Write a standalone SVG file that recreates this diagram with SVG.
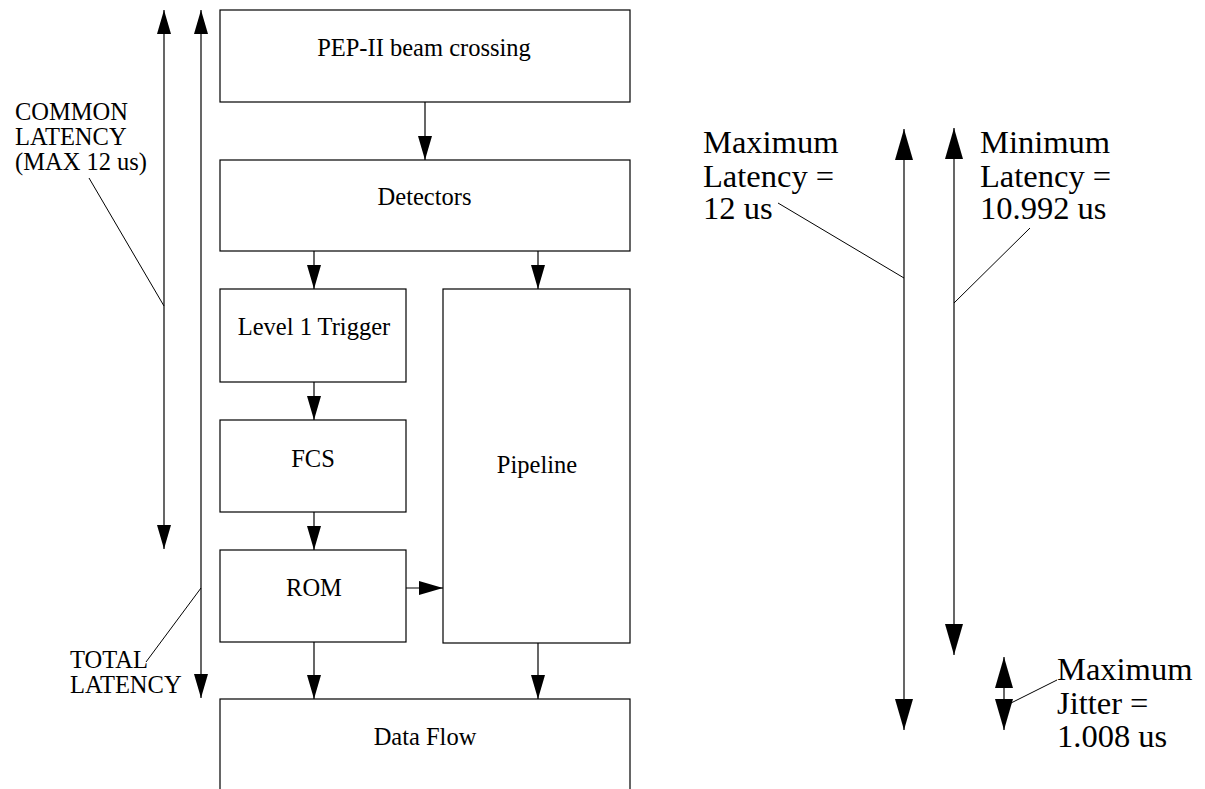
<svg xmlns="http://www.w3.org/2000/svg" width="1205" height="789" viewBox="0 0 1205 789">
  <defs>
    <marker id="head" viewBox="0 0 24 14" refX="24" refY="7" markerWidth="24" markerHeight="14" markerUnits="userSpaceOnUse" orient="auto-start-reverse">
      <path d="M0,0 L24,7 L0,14 z" fill="#000"/>
    </marker>
    <marker id="bighead" viewBox="0 0 31 18" refX="31" refY="9" markerWidth="31" markerHeight="18" markerUnits="userSpaceOnUse" orient="auto-start-reverse">
      <path d="M0,0 L31,9 L0,18 z" fill="#000"/>
    </marker>
  </defs>
  <style>
    .box { fill: #fff; stroke: #000; stroke-width: 1.2; }
    .lbl { font-family: "Liberation Serif", "Times New Roman", serif; font-size: 24.5px; fill: #000; }
    .big { font-family: "Liberation Serif", "Times New Roman", serif; font-size: 32.5px; fill: #000; }
    .mid { text-anchor: middle; }
    .flow { stroke: #000; stroke-width: 1.2; fill: none; marker-end: url(#head); }
    .span { stroke: #000; stroke-width: 1.2; fill: none; marker-start: url(#head); marker-end: url(#head); }
    .bigspan { stroke: #000; stroke-width: 1.2; fill: none; marker-start: url(#bighead); marker-end: url(#bighead); }
    .lead { stroke: #000; stroke-width: 1; fill: none; }
  </style>
  <rect width="1205" height="789" fill="#fff"/>

  <!-- processing blocks -->
  <g id="pep">
    <rect class="box" x="220" y="10" width="410" height="92"/>
    <text class="lbl mid" x="424" y="56">PEP-II beam crossing</text>
  </g>
  <g id="detectors">
    <rect class="box" x="220" y="160" width="410" height="91"/>
    <text class="lbl mid" x="424.5" y="205">Detectors</text>
  </g>
  <g id="level1">
    <rect class="box" x="220" y="289" width="186" height="93"/>
    <text class="lbl mid" x="314" y="335">Level 1 Trigger</text>
  </g>
  <g id="fcs">
    <rect class="box" x="220" y="420" width="186" height="92"/>
    <text class="lbl mid" x="313" y="467">FCS</text>
  </g>
  <g id="rom">
    <rect class="box" x="220" y="550" width="186" height="92"/>
    <text class="lbl mid" x="314" y="596">ROM</text>
  </g>
  <g id="pipeline">
    <rect class="box" x="443" y="289" width="187" height="354"/>
    <text class="lbl mid" x="537" y="473">Pipeline</text>
  </g>
  <g id="dataflow">
    <rect class="box" x="220" y="699" width="410" height="100"/>
    <text class="lbl mid" x="425" y="745">Data Flow</text>
  </g>

  <!-- data path connectors -->
  <g id="connectors">
    <line class="flow" x1="425" y1="102" x2="425" y2="160"/>
    <line class="flow" x1="314" y1="251" x2="314" y2="289"/>
    <line class="flow" x1="538" y1="251" x2="538" y2="289"/>
    <line class="flow" x1="314" y1="382" x2="314" y2="420"/>
    <line class="flow" x1="314" y1="512" x2="314" y2="550"/>
    <line class="flow" x1="406" y1="588" x2="443" y2="588"/>
    <line class="flow" x1="314" y1="642" x2="314" y2="699"/>
    <line class="flow" x1="538" y1="643" x2="538" y2="699"/>
  </g>

  <!-- latency spans on the left -->
  <g id="latency-left">
    <line class="span" x1="164" y1="10" x2="164" y2="549"/>
    <line class="span" x1="201" y1="10" x2="201" y2="698"/>
    <line class="lead" x1="89" y1="178" x2="164" y2="306"/>
    <line class="lead" x1="146" y1="662" x2="201" y2="588"/>
    <text class="lbl" x="15" y="120">COMMON</text>
    <text class="lbl" x="15" y="145">LATENCY</text>
    <text class="lbl" x="15" y="170">(MAX 12 us)</text>
    <text class="lbl" x="70" y="668">TOTAL</text>
    <text class="lbl" x="70" y="693">LATENCY</text>
  </g>

  <!-- latency and jitter spans on the right -->
  <g id="latency-right">
    <line class="bigspan" x1="904" y1="129" x2="904" y2="730"/>
    <line class="bigspan" x1="954" y1="128" x2="954" y2="655"/>
    <line class="bigspan" x1="1004" y1="657" x2="1004" y2="730"/>
    <line class="lead" x1="778" y1="203" x2="904" y2="278"/>
    <line class="lead" x1="1030" y1="228" x2="954" y2="303"/>
    <line class="lead" x1="1057" y1="680" x2="1007" y2="705"/>
    <text class="big" x="703" y="153">Maximum</text>
    <text class="big" x="703" y="187">Latency =</text>
    <text class="big" x="703" y="219">12 us</text>
    <text class="big" x="980" y="153">Minimum</text>
    <text class="big" x="980" y="187">Latency =</text>
    <text class="big" x="980" y="219">10.992 us</text>
    <text class="big" x="1057" y="680">Maximum</text>
    <text class="big" x="1057" y="714">Jitter =</text>
    <text class="big" x="1057" y="747">1.008 us</text>
  </g>
</svg>
